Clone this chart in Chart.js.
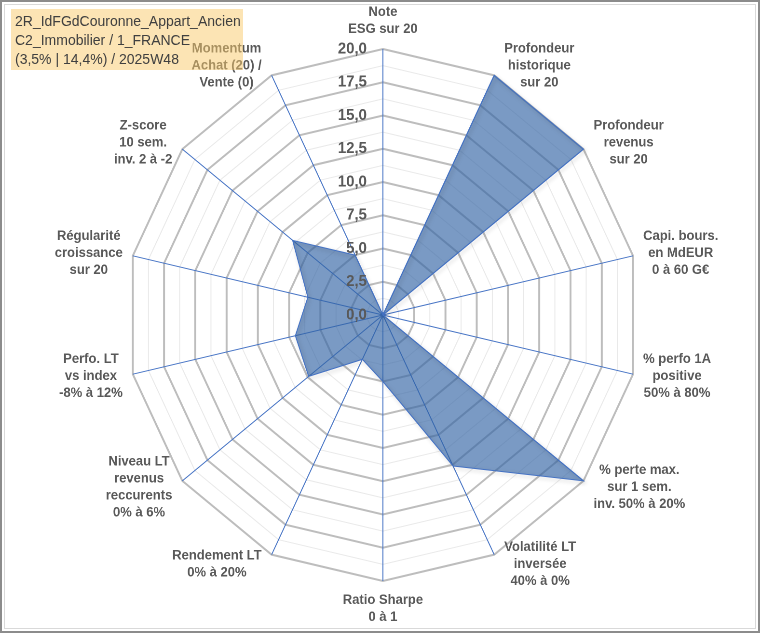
<!DOCTYPE html>
<html lang="fr">
<head>
<meta charset="utf-8">
<title>Radar 2R_IdFGdCouronne_Appart_Ancien</title>
<script src="https://cdn.jsdelivr.net/npm/chart.js@4.4.1/dist/chart.umd.min.js"></script>
<style>
  html, body { margin: 0; padding: 0; background: #fff; }
  #page { position: relative; width: 760px; height: 633px; overflow: hidden; background: #fff; }
  /* l'image d'origine est un peu tassée en largeur */
  #chartBox { position: absolute; left: 0; top: 0; width: 788px; height: 633px; transform: scaleX(0.9645); transform-origin: 0 0; }
  #frame { position: absolute; left: 0; top: 0; right: 0; bottom: 0; border: 2px solid #8c8c8c; box-shadow: inset 0 0 0 2px #fff, inset 0 0 0 3px #d9d9d9; pointer-events: none; }
  #titleBox { position: absolute; left: 11px; top: 9px; width: 228px; height: 58px; padding: 3px 0 0 4px; background: rgba(249, 201, 105, 0.5); font: 14px "Liberation Sans", Arial, sans-serif; line-height: 19px; color: #404040; white-space: nowrap; }
</style>
</head>
<body>
<div id="page">
  <div id="chartBox"><canvas id="radar"></canvas></div>
  <div id="titleBox">2R_IdFGdCouronne_Appart_Ancien<br>C2_Immobilier / 1_FRANCE<br>(3,5% | 14,4%) / 2025W48</div>
  <div id="frame"></div>
</div>
<script>
// axes du radar, dans le sens horaire à partir du haut
const axisLabels = [
    ['Note', 'ESG sur 20'],
    ['Profondeur', 'historique', 'sur 20'],
    ['Profondeur', 'revenus', 'sur 20'],
    ['Capi. bours.', 'en MdEUR', '0 à 60 G€'],
    ['% perfo 1A', 'positive', '50% à 80%'],
    ['% perte max.', 'sur 1 sem.', 'inv. 50% à 20%'],
    ['Volatilité LT', 'inversée', '40% à 0%'],
    ['Ratio Sharpe', '0 à 1'],
    ['Rendement LT', '0% à 20%'],
    ['Niveau LT', 'revenus', 'reccurents', '0% à 6%'],
    ['Perfo. LT', 'vs index', '-8% à 12%'],
    ['Régularité', 'croissance', 'sur 20'],
    ['Z-score', '10 sem.', 'inv. 2 à -2'],
    ['Momentum', 'Achat (20) /', 'Vente (0)']
];
// notes sur 20
const scores = [0, 20, 20, 0, 0, 20, 12.6, 5.0, 3.7, 7.4, 7.0, 6.0, 9.0, 5.0];

const scaleMin = 0;
const scaleMax = 20;
const minorStep = 1.25;
const majorStep = 2.5;

const xSquash = 0.9645;   // même valeur que le scaleX du css
const textGrey = '#595959';

// petite ombre sous la surface (comme dans Excel)
const shadowPlugin = {
    id: 'areaShadow',
    beforeDatasetDraw(chart) {
        const ctx = chart.ctx;
        ctx.save();
        ctx.shadowColor = 'rgba(0, 0, 0, 0.28)';
        ctx.shadowBlur = 8;
        ctx.shadowOffsetX = 3;
        ctx.shadowOffsetY = 4;
    },
    afterDatasetDraw(chart) {
        chart.ctx.restore();
    }
};

// graduations 0,0 ... 20,0 à gauche de l'axe vertical, par-dessus la surface
const tickLabelsPlugin = {
    id: 'tickLabels',
    afterDatasetsDraw(chart) {
        const scale = chart.scales.r;
        const ctx = chart.ctx;
        ctx.save();
        ctx.font = 'bold 15.5px "Liberation Sans", Arial, sans-serif';
        ctx.fillStyle = textGrey;
        ctx.textAlign = 'right';
        ctx.textBaseline = 'middle';
        scale.ticks.forEach(t => {
            if (t.value % majorStep !== 0) return;
            const y = scale.yCenter - scale.getDistanceFromCenterForValue(t.value);
            ctx.fillText(t.value.toFixed(1).replace('.', ','), scale.xCenter - 16 / xSquash, y);
        });
        ctx.restore();
    }
};

// libellés des axes, lignes centrées, posés à côté du bout de chaque axe
const axisLabelsPlugin = {
    id: 'axisLabels',
    afterDraw(chart) {
        const scale = chart.scales.r;
        const ctx = chart.ctx;
        const lineH = 17;
        const n = chart.data.labels.length;
        ctx.save();
        ctx.font = 'bold 13.5px "Liberation Sans", Arial, sans-serif';
        ctx.fillStyle = textGrey;
        ctx.textAlign = 'center';
        ctx.textBaseline = 'middle';
        chart.data.labels.forEach((lines, i) => {
            const p = scale.getPointPosition(i, scale.drawingArea);
            const a = i * 2 * Math.PI / n;
            const s = Math.sin(a), c = Math.cos(a);
            const w = Math.max(...lines.map(t => ctx.measureText(t).width));
            const h = lines.length * lineH;
            let x, y;
            if (Math.abs(s) < 0.01) {
                x = p.x;
                y = c > 0 ? p.y - 11 - h / 2 : p.y + 11 + h / 2;
            } else {
                x = p.x + Math.sign(s) * (w / 2 + 10 / xSquash);
                y = p.y - 10.5 * c;
            }
            lines.forEach((t, k) => ctx.fillText(t, x, y + (k - (lines.length - 1) / 2) * lineH));
        });
        ctx.restore();
    }
};

const isMajor = v => v % majorStep === 0;

new Chart(document.getElementById('radar'), {
    type: 'radar',
    data: {
        labels: axisLabels,
        datasets: [{
            data: scores,
            fill: true,
            backgroundColor: 'rgba(50, 100, 165, 0.65)',
            borderColor: '#4472C4',
            borderWidth: 1,
            pointRadius: 0,
            pointHoverRadius: 0
        }]
    },
    options: {
        responsive: true,
        maintainAspectRatio: false,
        animation: false,
        devicePixelRatio: 2,
        layout: {
            padding: {left: 131.4, right: 124.6, top: 49.5, bottom: 51.5}
        },
        plugins: {
            legend: {display: false},
            tooltip: {enabled: false}
        },
        scales: {
            r: {
                min: scaleMin,
                max: scaleMax,
                ticks: {stepSize: minorStep, display: false},
                pointLabels: {display: false},
                grid: {
                    color: c => (c.tick && isMajor(c.tick.value)) ? '#BDBDBD' : '#E9E9E9',
                    lineWidth: c => (c.tick && isMajor(c.tick.value)) ? 2 : 1
                },
                angleLines: {color: '#4472C4', lineWidth: 1}
            }
        }
    },
    plugins: [shadowPlugin, tickLabelsPlugin, axisLabelsPlugin]
});
</script>
</body>
</html>
